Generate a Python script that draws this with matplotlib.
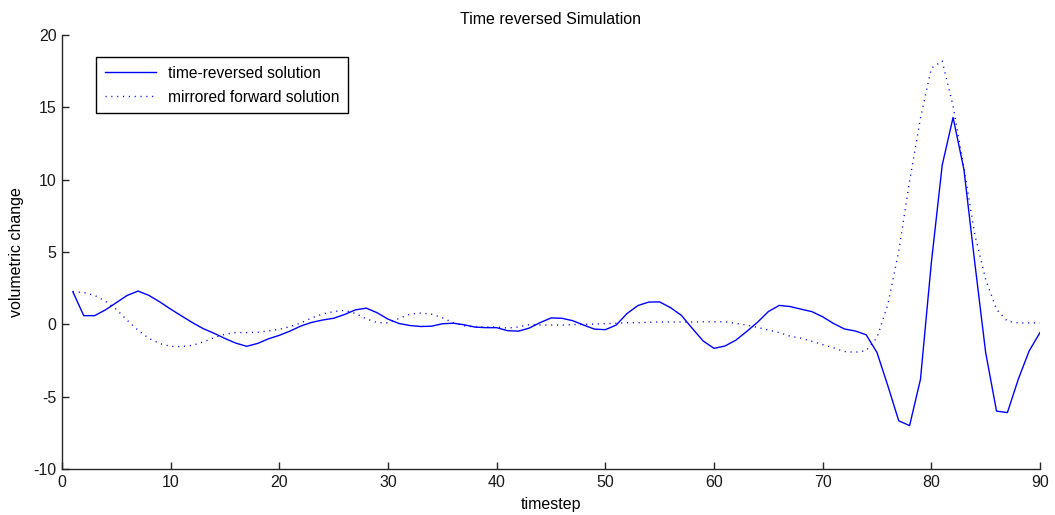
import numpy as np
import matplotlib
matplotlib.use("Agg")
import matplotlib.pyplot as plt

plt.rcParams['font.family'] = ['Liberation Sans', 'DejaVu Sans']
plt.rcParams['axes.unicode_minus'] = False

timestep = np.arange(1, 91)

# time-reversed solution
reversed_sol = [2.25, 0.6, 0.6, 1.0, 1.5, 2.0, 2.3, 2.0, 1.55, 1.05,
                0.58, 0.12, -0.3, -0.62, -0.98, -1.3, -1.52, -1.32, -1.0, -0.76,
                -0.46, -0.11, 0.14, 0.3, 0.42, 0.68, 1.0, 1.12, 0.8, 0.36,
                0.06, -0.08, -0.15, -0.13, 0.04, 0.08, -0.03, -0.19, -0.23, -0.23,
                -0.44, -0.47, -0.26, 0.12, 0.44, 0.42, 0.25, -0.05, -0.33, -0.37,
                -0.05, 0.75, 1.3, 1.54, 1.55, 1.15, 0.62, -0.28, -1.15, -1.66,
                -1.5, -1.1, -0.5, 0.14, 0.88, 1.31, 1.23, 1.05, 0.88, 0.52,
                0.06, -0.32, -0.46, -0.72, -1.95, -4.25, -6.67, -7.0, -3.8, 4.25,
                11.0, 14.3, 10.7, 4.25, -1.95, -6.0, -6.1, -3.8, -1.84, -0.57]

# mirrored forward solution
mirrored_sol = [2.25, 2.2, 2.0, 1.6, 1.03, 0.28, -0.41, -0.97, -1.33, -1.52,
                -1.54, -1.45, -1.22, -0.92, -0.68, -0.57, -0.57, -0.55, -0.46, -0.34,
                -0.16, 0.1, 0.45, 0.72, 0.88, 0.97, 0.75, 0.38, 0.12, 0.1,
                0.4, 0.7, 0.78, 0.7, 0.46, 0.11, -0.1, -0.18, -0.18, -0.18,
                -0.26, -0.18, -0.02, -0.04, -0.05, -0.05, -0.02, 0.0, 0.02, 0.05,
                0.07, 0.11, 0.11, 0.14, 0.16, 0.16, 0.16, 0.16, 0.18, 0.18,
                0.18, 0.07, -0.05, -0.21, -0.39, -0.57, -0.82, -0.96, -1.17, -1.4,
                -1.62, -1.88, -1.93, -1.82, -0.92, 1.38, 5.06, 9.9, 14.25, 17.7,
                18.2, 15.1, 10.8, 6.2, 3.1, 1.03, 0.21, 0.1, 0.1, 0.1]

fig = plt.figure(figsize=(10.55, 5.15), dpi=100)
ax = fig.add_axes([62/1055, 1 - 469/515, (1040 - 62)/1055, (469 - 35)/515])

ax.plot(timestep, reversed_sol, color='#0000ff', lw=1.0, label='time-reversed solution')
ax.plot(timestep, mirrored_sol, color='#0000ff', lw=1.0, linestyle=(0, (0.8, 3.4)),
        label='mirrored forward solution')

ax.set_xlim(0, 90)
ax.set_ylim(-10, 20)
ax.set_xticks(np.arange(0, 91, 10))
ax.set_yticks(np.arange(-10, 21, 5))
ax.spines['top'].set_visible(False)
ax.spines['right'].set_visible(False)
for s in ['left', 'bottom']:
    ax.spines[s].set_color('#262626')
    ax.spines[s].set_linewidth(1.0)
ax.tick_params(direction='in', length=5, width=1, colors='#262626',
               labelsize=11.5, labelcolor='#1a1a1a', pad=4)

ax.set_title('Time reversed Simulation', fontsize=11.5, pad=8)
ax.set_xlabel('timestep', fontsize=11.5, labelpad=5)
ax.set_ylabel('volumetric change', fontsize=11.5, labelpad=7)

leg = ax.legend(loc='upper left', bbox_to_anchor=(34/978, 1 - 22/434), fontsize=11.2,
                fancybox=False, framealpha=1, edgecolor='black', handlelength=3.3,
                borderpad=0.55, labelspacing=0.6, borderaxespad=0)
leg.get_frame().set_linewidth(1.0)

fig.savefig('out.png', dpi=100)
